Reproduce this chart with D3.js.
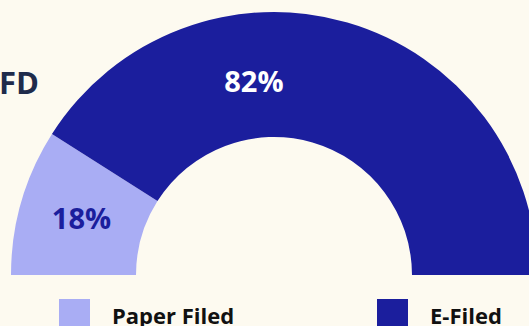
<!DOCTYPE html>
<html>
<head>
<meta charset="utf-8">
<script src="https://cdn.jsdelivr.net/npm/d3@7"></script>
<style>
  html, body { margin: 0; padding: 0; background: #fdfaf0; overflow: hidden; }
  svg { display: block; font-family: "Open Sans", "Noto Sans", sans-serif; }
</style>
</head>
<body>
<svg id="chart" width="529" height="326"></svg>
<script>
// Share of returns by filing method
const categories = ["Paper Filed", "E-Filed"];
const shares = [18, 82];
const colors = ["#a9adf4", "#1b1e9d"];
const labelColors = ["#1b1e9d", "#ffffff"];

const W = 529, H = 326;
const cx = 274, cy = 275;
const outerR = 263, innerR = 138;

const svg = d3.select("#chart");
svg.append("rect").attr("width", W).attr("height", H).attr("fill", "#fdfaf0");

// Partial title, clipped at the left edge
svg.append("text")
  .attr("x", -1).attr("y", 94)
  .attr("fill", "#1f2b4b")
  .attr("font-size", 31).attr("font-weight", 700)
  .text("FD");

const pie = d3.pie().sort(null)
  .startAngle(-Math.PI / 2).endAngle(Math.PI / 2);
const arcs = pie(shares);

const arc = d3.arc().innerRadius(innerR).outerRadius(outerR);

const g = svg.append("g").attr("transform", `translate(${cx},${cy})`);

g.selectAll("path.slice")
  .data(arcs)
  .join("path")
  .attr("class", "slice")
  .attr("d", arc)
  .attr("fill", (d, i) => colors[i]);

// The large slice's label sits over the part of the ring left of the
// frame edge, so its anchor span is shortened before taking the centroid.
const labelSpan = [1, 0.70];
const labelRadius = [(innerR + outerR) / 2, 194];
function labelPos(d, i) {
  const span = (d.endAngle - d.startAngle) * labelSpan[i];
  const a = d3.arc().innerRadius(labelRadius[i]).outerRadius(labelRadius[i]);
  return a.centroid({ startAngle: d.startAngle, endAngle: d.startAngle + span });
}

g.selectAll("text.val")
  .data(arcs)
  .join("text")
  .attr("class", "val")
  .attr("transform", (d, i) => `translate(${labelPos(d, i)})`)
  .attr("text-anchor", "middle")
  .attr("dy", "0.35em")
  .attr("fill", (d, i) => labelColors[i])
  .attr("font-size", 29).attr("font-weight", 700)
  .text(d => d.data + "%");

// Legend
const legendX = [59, 377];
const leg = svg.selectAll("g.leg")
  .data(categories)
  .join("g")
  .attr("class", "leg")
  .attr("transform", (d, i) => `translate(${legendX[i]},299)`);

leg.append("rect")
  .attr("width", 31).attr("height", 32)
  .attr("fill", (d, i) => colors[i]);

leg.append("text")
  .attr("x", 53).attr("y", 25)
  .attr("fill", "#111111")
  .attr("font-size", 22).attr("font-weight", 700)
  .text(d => d);
</script>
</body>
</html>
